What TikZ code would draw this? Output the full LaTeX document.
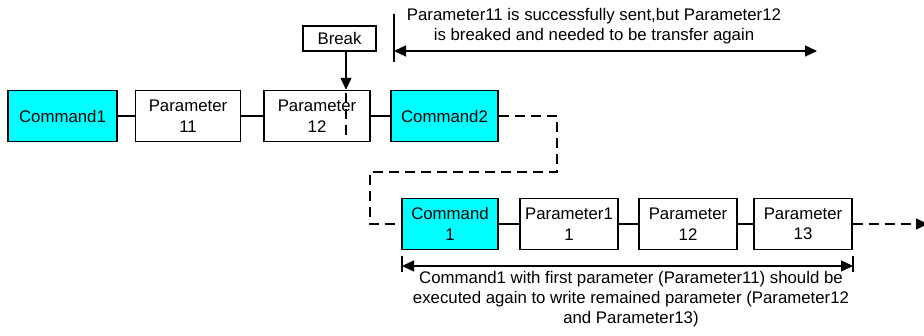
\documentclass[tikz,border=0pt]{standalone}
\usepackage{fontspec}
\setmainfont{Liberation Sans}
\usetikzlibrary{arrows.meta,positioning}
\definecolor{cmdcyan}{RGB}{0,255,255}
\tikzset{>={Triangle[length=12pt,width=11pt]}}

\begin{document}
\begin{tikzpicture}[x=1pt,y=-1pt,
        box/.style={draw,line width=1.4pt,minimum height=51pt,inner sep=0pt,align=center,font=\fontsize{16.8}{20.5}\selectfont},
        cmd/.style={box,fill=cmdcyan},
        note/.style={align=center,font=\fontsize{16.8}{20}\selectfont},
        link/.style={line width=1.3pt},
        brokenlink/.style={line width=1.3pt,dash pattern=on 10pt off 6pt}]
        \useasboundingbox (0,0) rectangle (924,336);
        % first transfer
        \node[cmd,minimum width=109pt] (cmd1) at (62.5,116) {Command1};
        \node[box,minimum width=105pt] (par11) at (188,116) {Parameter\\11};
        \node[box,minimum width=106pt] (par12) at (317,116) {Parameter\\12};
        \node[cmd,minimum width=107pt] (cmd2) at (444.5,116) {Command2};
        \draw[link] (cmd1)--(par11);
        \draw[link] (par11)--(par12);
        \draw[link] (par12)--(cmd2);
        % break
        \node[box,minimum width=73pt,minimum height=25pt] (brk) at (339.5,38.5) {Break};
        \coordinate (cut) at (346,70);
        \draw[link,->] (brk.south -| cut)--(cut |- par12.north);
        \draw[brokenlink] ([yshift=-3pt]cut |- par12.north)--([yshift=4pt]cut |- par12.south);
        % top dimension
        \coordinate (topL) at (394,51);
        \coordinate (topR) at (817,51);
        \draw[link] ([yshift=37pt]topL)--([yshift=-11pt]topL);
        \draw[link,<->] (topL)--(topR);
        \node[note] (topnote) at (594,26) {Parameter11 is successfully sent,but Parameter12\\is breaked and needed to be transfer again};
        % second transfer
        \node[cmd,minimum width=96pt] (recmd1) at (450,224) {Command\\1};
        \node[box,minimum width=98pt] (repar11) at (569,224) {Parameter1\\1};
        \node[box,minimum width=98pt] (repar12) at (688,224) {Parameter\\12};
        \node[box,minimum width=98pt] (repar13) at (803,224) {Parameter\\13};
        \draw[link] (recmd1)--(repar11);
        \draw[link] (repar11)--(repar12);
        \draw[link] (repar12)--(repar13);
        % resend path
        \coordinate (turnA) at (557,172);
        \coordinate (turnB) at (370,172);
        \coordinate (out) at (928,224);
        \draw[brokenlink] (cmd2.east) -| (turnA)--(turnB) |- (recmd1.west);
        \draw[brokenlink,->] (repar13.east)--(out);
        % bottom dimension
        \coordinate (botL) at (402,266);
        \coordinate (botR) at (853,266);
        \draw[link] ([yshift=10pt]botL)--([yshift=-6pt]botL);
        \draw[link] ([yshift=10pt]botR)--([yshift=-6pt]botR);
        \draw[link,<->] (botL)--(botR);
        \node[note] (botnote) at (631,299) {Command1 with first parameter (Parameter11) should be\\executed again to write remained parameter (Parameter12\\and Parameter13)};
\end{tikzpicture}
\end{document}
